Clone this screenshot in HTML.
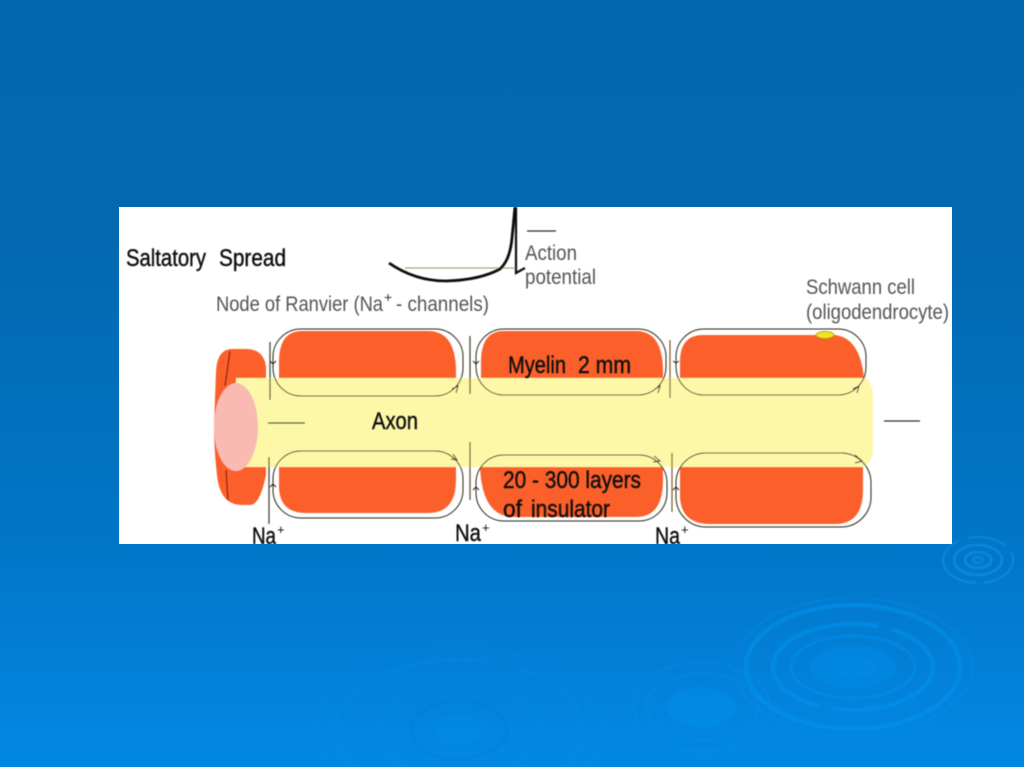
<!DOCTYPE html>
<html>
<head>
<meta charset="utf-8">
<style>
html,body{margin:0;padding:0;width:1024px;height:767px;overflow:hidden;background:#0268b0}
svg{display:block}
text{font-family:"Liberation Sans",sans-serif}
</style>
</head>
<body>
<svg width="1024" height="767" viewBox="0 0 1024 767" xmlns="http://www.w3.org/2000/svg">
<defs>
<linearGradient id="bg" x1="0" y1="0" x2="0" y2="1">
<stop offset="0" stop-color="#0267ae"/>
<stop offset="0.3" stop-color="#0268b0"/>
<stop offset="0.72" stop-color="#0276c8"/>
<stop offset="1" stop-color="#0289e4"/>
</linearGradient>
<filter id="s" x="0" y="0" width="1024" height="767" filterUnits="userSpaceOnUse"><feGaussianBlur stdDeviation="0.45"/></filter>
<filter id="r" x="0" y="0" width="1024" height="767" filterUnits="userSpaceOnUse"><feGaussianBlur stdDeviation="0.9"/></filter>
<clipPath id="panel"><rect x="119" y="207" width="833" height="337"/></clipPath>
</defs>
<rect width="1024" height="767" fill="url(#bg)"/>

<!-- ripples -->
<g fill="none" filter="url(#r)">
<g stroke="#0a93f2" stroke-opacity="0.5">
<ellipse cx="853" cy="667" rx="119" ry="69" stroke-width="2" stroke-dasharray="300 20 130 16" stroke-opacity=".3"/>
<ellipse cx="853" cy="667" rx="107" ry="62" stroke-width="4.5"/>
<ellipse cx="853" cy="667" rx="80" ry="43" stroke-width="4.5" stroke-dasharray="120 12 190 14"/>
<ellipse cx="853" cy="667" rx="62" ry="31" stroke-width="2.5"/>
<ellipse cx="853" cy="667" rx="43" ry="22" fill="#0a93f2" fill-opacity=".3" stroke="none"/>
<ellipse cx="853" cy="667" rx="22" ry="11" fill="#0a93f2" fill-opacity=".15" stroke="none"/>
</g>
<g stroke="#0a90ee" stroke-opacity="0.2">
<path d="M332 767A142 83 0 1 1 586 767" stroke-width="2"/>
<path d="M354 767A124 70 0 1 1 564 767" stroke-width="3.5" stroke-dasharray="230 30"/>
<path d="M407 767A80 49 0 1 1 511 767" stroke-width="2.5"/>
<ellipse cx="459" cy="730" rx="48" ry="29" stroke-width="4" stroke="#025fae" stroke-opacity=".1"/>
<ellipse cx="459" cy="730" rx="24" ry="15" fill="#0a90ee" fill-opacity=".25" stroke="none"/>
</g>
<g stroke="#0a90ee" stroke-opacity="0.28">
<ellipse cx="702" cy="707" rx="68" ry="45" stroke-width="2"/>
<ellipse cx="702" cy="707" rx="56" ry="33" stroke-width="3"/>
<ellipse cx="702" cy="707" rx="35" ry="20" fill="#0a90ee" fill-opacity=".4" stroke="none"/>
</g>
<g stroke="#1a9cf2" stroke-opacity="0.5">
<ellipse cx="978" cy="560" rx="35" ry="23" stroke-width="2" stroke-dasharray="40 8 70 10"/>
<ellipse cx="978" cy="560" rx="24" ry="15" stroke-width="2.5"/>
<ellipse cx="978" cy="560" rx="13" ry="8" stroke-width="2.5"/>
<ellipse cx="978" cy="560" rx="5" ry="3" stroke-width="2"/>
</g>
</g>

<!-- panel -->
<rect x="119" y="207" width="833" height="337" fill="#fff"/>
<g clip-path="url(#panel)">
<g filter="url(#s)">
<!-- left cap -->
<path d="M266 378V367Q264 349 246 349H232Q217 349 216 372L214 425Q214 450 217 475Q220 505 242 505H250Q260 505 266 475V467Z" fill="#fb6129"/>
<!-- myelin -->
<path d="M279 378V362Q279 331 302 331H428Q456 331 456 372V378Z" fill="#fb6129"/>
<path d="M481 378V362Q481 331 504 331H636Q663 331 663 372V378Z" fill="#fb6129"/>
<path d="M680 378V362Q680 335 703 335H835Q860 338 864 378Z" fill="#fb6129"/>
<path d="M279 467V486Q279 513 306 513H428Q456 513 456 480V467Z" fill="#fb6129"/>
<path d="M480 467Q482 517 514 517H636Q663 517 663 480V467Z" fill="#fb6129"/>
<path d="M680 467V495Q680 524 710 524H835Q863 524 863 490V467Z" fill="#fb6129"/>
<!-- axon -->
<path d="M236 378H866Q873 385 873 395V450Q873 460 864 467H236Z" fill="#fdf8a8"/>
<!-- pink -->
<ellipse cx="236" cy="427" rx="22" ry="44" fill="#f9bab2"/>
<!-- dark cut lines -->
<path d="M230 351L225 386M226 470L228 500" stroke="#7a1210" stroke-width="1.2" fill="none"/>
<!-- loops -->
<g fill="none" stroke="#2a2616" stroke-width="1">
<rect x="273" y="329" width="190" height="67" rx="28"/>
<rect x="476" y="329" width="190" height="66" rx="28"/>
<rect x="676" y="329" width="190" height="66" rx="28"/>
<rect x="273" y="451" width="190" height="67" rx="28"/>
<rect x="476" y="455" width="191" height="66" rx="28"/>
<rect x="676" y="453" width="195" height="74" rx="30"/>
<!-- arrowheads -->
<path d="M452 389L458 386L456 393M655 389L660 386L658 393M853 389L859 386L857 393"/>
<path d="M453 454L457 460L451 459M654 456L660 461L653 462M855 455L862 461L855 463"/>
<path d="M270 361L273 364L276 361M473 361L476 364L479 361M673 361L676 363L679 361"/>
<path d="M270 487L273 484L276 487M473 490L476 487L479 490M673 490L676 487L679 490"/>
</g>
<!-- vertical ticks -->
<g stroke="#3d3a28" stroke-width="1.2">
<path d="M270 342V400M269 457V524M470 336V394"/>
<path d="M470 442V500" stroke="#5b4a20"/>
<path d="M670 340V398M672 453V512" stroke="#7a5a20"/>
<path d="M268 423H305M884 421H920M527 231H556" stroke="#333"/>
</g>
<!-- action potential -->
<path d="M405 268H515" stroke="#a8a878" stroke-width="1.2"/>
<path d="M389 263Q415 281 446 281Q480 280 500 269Q510 260 512 238L515 207" fill="none" stroke="#111" stroke-width="2.8"/>
<path d="M516 207V273L525 268" fill="none" stroke="#111" stroke-width="2.2"/>
<!-- schwann dot -->
<ellipse cx="825" cy="335" rx="9" ry="3.6" fill="#eee31c" stroke="#8a7a10" stroke-width=".6"/>
</g>
<g filter="url(#s)">
<g fill="#111" font-size="24" stroke="#111" stroke-width=".4">
<text x="126" y="266" textLength="80" lengthAdjust="spacingAndGlyphs">Saltatory</text>
<text x="219" y="266" textLength="67" lengthAdjust="spacingAndGlyphs">Spread</text>
<text x="372" y="429" textLength="46" lengthAdjust="spacingAndGlyphs" font-size="24">Axon</text>
<text x="508" y="373" textLength="58" lengthAdjust="spacingAndGlyphs">Myelin</text>
<text x="578" y="373" textLength="53" lengthAdjust="spacingAndGlyphs">2 mm</text>
<text x="503" y="488" textLength="138" lengthAdjust="spacingAndGlyphs">20 - 300 layers</text>
<text x="503" y="517" textLength="19" lengthAdjust="spacingAndGlyphs">of</text>
<text x="531" y="517" textLength="79" lengthAdjust="spacingAndGlyphs">insulator</text>
<text x="252" y="544" textLength="24" lengthAdjust="spacingAndGlyphs">Na</text>
<text x="455" y="541" textLength="26" lengthAdjust="spacingAndGlyphs">Na</text>
<text x="655" y="544" textLength="25" lengthAdjust="spacingAndGlyphs">Na</text>
<text x="277" y="534" font-size="13" stroke="none">+</text>
<text x="482" y="532" font-size="13" stroke="none">+</text>
<text x="681" y="534" font-size="13" stroke="none">+</text>
</g>
<g fill="#555" font-size="21">
<text x="216" y="311" textLength="167" lengthAdjust="spacingAndGlyphs">Node of Ranvier (Na</text>
<text x="384" y="302" font-size="14" fill="#333">+</text>
<text x="396" y="311" textLength="93" lengthAdjust="spacingAndGlyphs">- channels)</text>
<text x="525" y="260" textLength="52" lengthAdjust="spacingAndGlyphs">Action</text>
<text x="525" y="284" textLength="71" lengthAdjust="spacingAndGlyphs">potential</text>
<text x="806" y="294" textLength="109" lengthAdjust="spacingAndGlyphs">Schwann cell</text>
<text x="806" y="319" textLength="143" lengthAdjust="spacingAndGlyphs">(oligodendrocyte)</text>
</g>
</g>
</g>
</svg>
</body>
</html>
